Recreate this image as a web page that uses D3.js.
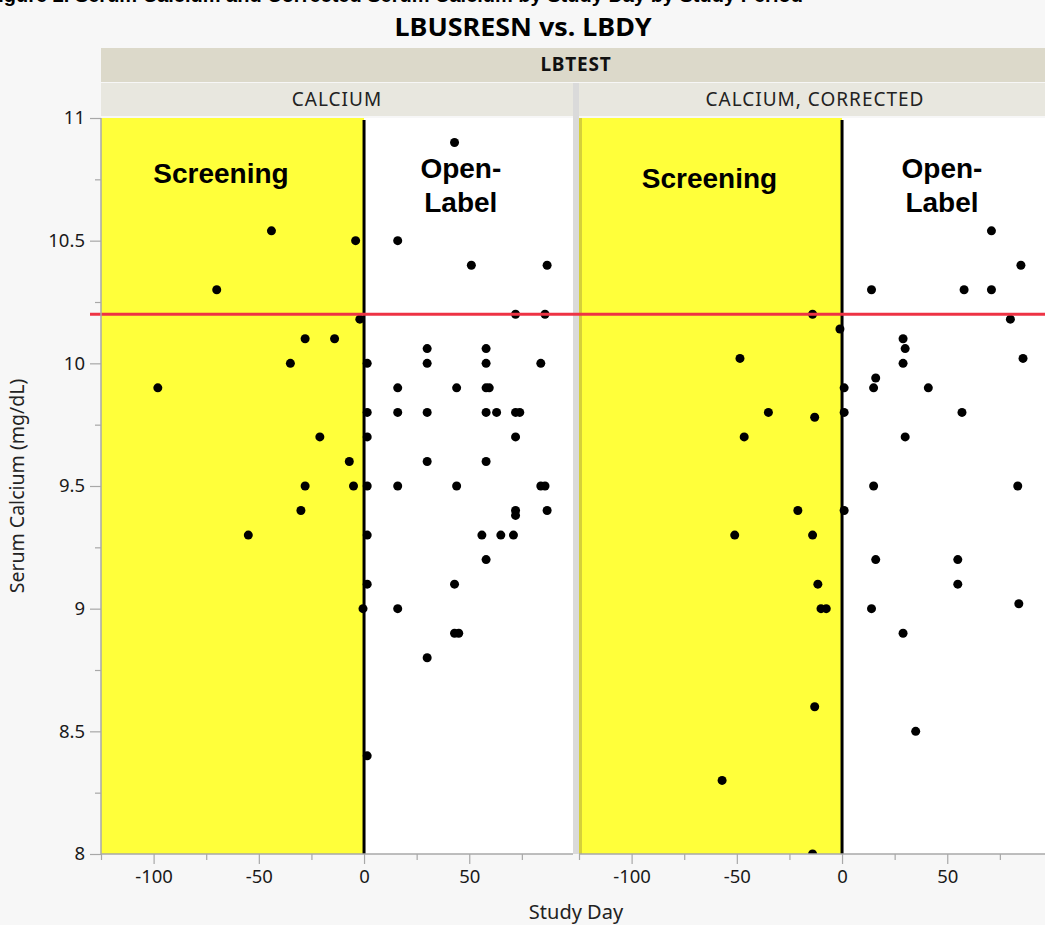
<!DOCTYPE html>
<html>
<head>
<meta charset="utf-8">
<script src="https://cdn.jsdelivr.net/npm/d3@7"></script>
<style>
  html, body { margin: 0; padding: 0; background: #f7f7f7; overflow: hidden; }
  svg { display: block; }
</style>
</head>
<body>
<svg id="chart" width="1045" height="925"></svg>
<script>
// ---- data -------------------------------------------------------------
const panelNames = ["CALCIUM", "CALCIUM, CORRECTED"];

// Serum calcium (mg/dL) by study day
const calciumDay = [
  -98, -70, -44, -55, -35, -28, -14, -21, -28, -30, -7, -5, -4, -2, -0.5,
  1.5, 1.5, 1.5, 1.5, 1.5, 1.5, 1.5,
  16, 16, 16, 16, 16,
  30, 30, 30, 30, 30,
  43, 44, 44, 43, 43, 45,
  51,
  58, 58, 58, 59.5, 58, 58, 56, 58,
  63, 65,
  72, 72, 72, 72, 71, 72, 74,
  84, 86, 87, 84, 86, 87
];
const calciumValue = [
  9.9, 10.3, 10.54, 9.3, 10.0, 10.1, 10.1, 9.7, 9.5, 9.4, 9.6, 9.5, 10.5, 10.18, 9.0,
  10.0, 9.8, 9.7, 9.5, 9.3, 9.1, 8.4,
  10.5, 9.9, 9.8, 9.5, 9.0,
  10.06, 10.0, 9.8, 9.6, 8.8,
  10.9, 9.9, 9.5, 9.1, 8.9, 8.9,
  10.4,
  10.06, 10.0, 9.9, 9.9, 9.8, 9.6, 9.3, 9.2,
  9.8, 9.3,
  10.2, 9.7, 9.4, 9.38, 9.3, 9.8, 9.8,
  10.0, 10.2, 10.4, 9.5, 9.5, 9.4
];

// Corrected serum calcium (mg/dL) by study day
const correctedDay = [
  -57, -51, -48.5, -46.5, -35, -21, -14, -13, -14, -11.5, -10, -7.5, -13, -14, -1,
  1, 1, 1,
  14, 16, 15, 15, 16, 14,
  29, 30, 29, 30, 29, 35, 41,
  58, 57, 55, 55,
  71, 71, 80, 85, 86, 83.5, 84
];
const correctedValue = [
  8.3, 9.3, 10.02, 9.7, 9.8, 9.4, 10.2, 9.78, 9.3, 9.1, 9.0, 9.0, 8.6, 8.0, 10.14,
  9.9, 9.8, 9.4,
  10.3, 9.94, 9.9, 9.5, 9.2, 9.0,
  10.1, 10.06, 10.0, 9.7, 8.9, 8.5, 9.9,
  10.3, 9.8, 9.2, 9.1,
  10.54, 10.3, 10.18, 10.4, 10.02, 9.5, 9.02
];

const xDomain = [-125, 99.3];
const yDomain = [8, 11];
const xMajorTicks = [-100, -50, 0, 50];
const xMinorTicks = [-125, -75, -25, 25, 75];
const yMajorTicks = [8, 8.5, 9, 9.5, 10, 10.5, 11];
const yMinorTicks = [8.25, 8.75, 9.25, 9.75, 10.25, 10.75];
const upperNormal = 10.2;          // reference line
const screeningEnd = 0;            // day 0 separates the study periods

// ---- layout -----------------------------------------------------------
const svg = d3.select("#chart");
const panelLeft = [101, 579];
const panelWidth = 472;
const plotTop = 118, plotBottom = 854;

const y = d3.scaleLinear().domain(yDomain).range([plotBottom, plotTop]);
const xScales = panelLeft.map(l => d3.scaleLinear().domain(xDomain).range([l, l + panelWidth]));

const fontUI = "'Noto Sans', 'Open Sans', sans-serif";
const fontBold = "'Liberation Sans', Arial, sans-serif";

// caption line running off the top edge
svg.append("text")
  .attr("x", -14).attr("y", 1.5)
  .attr("font-family", fontBold).attr("font-weight", "bold").attr("font-size", 20)
  .attr("fill", "#000")
  .text("Figure 2. Serum Calcium and Corrected Serum Calcium by Study Day by Study Period");

// title
svg.append("text")
  .attr("x", 523).attr("y", 36)
  .attr("text-anchor", "middle")
  .attr("font-family", fontUI).attr("font-weight", "bold").attr("font-size", 25)
  .attr("textLength", 257).attr("lengthAdjust", "spacingAndGlyphs")
  .attr("fill", "#000")
  .text("LBUSRESN vs. LBDY");

// group header strip
svg.append("rect")
  .attr("x", panelLeft[0]).attr("y", 48)
  .attr("width", panelLeft[1] + panelWidth - panelLeft[0]).attr("height", 34)
  .attr("fill", "#dcd9ca");
svg.append("text")
  .attr("x", (panelLeft[0] + panelLeft[1] + panelWidth) / 2).attr("y", 71)
  .attr("text-anchor", "middle")
  .attr("font-family", fontUI).attr("font-weight", "bold").attr("font-size", 19)
  .attr("letter-spacing", 0.8)
  .attr("fill", "#111")
  .text("LBTEST");

// divider between the two panels
svg.append("rect")
  .attr("x", panelLeft[0] + panelWidth).attr("y", 83)
  .attr("width", panelLeft[1] - panelLeft[0] - panelWidth).attr("height", plotBottom - 83)
  .attr("fill", "#dadada");

const defs = svg.append("defs");

panelNames.forEach((name, i) => {
  const x = xScales[i];
  const days = i === 0 ? calciumDay : correctedDay;
  const vals = i === 0 ? calciumValue : correctedValue;
  const left = panelLeft[i];

  // panel header
  svg.append("rect")
    .attr("x", left).attr("y", 83)
    .attr("width", panelWidth).attr("height", 33)
    .attr("fill", "#e8e7df");
  svg.append("text")
    .attr("x", left + panelWidth / 2).attr("y", 106)
    .attr("text-anchor", "middle")
    .attr("font-family", fontUI).attr("font-size", 19)
    .attr("letter-spacing", 1)
    .attr("fill", "#222")
    .text(name);

  defs.append("clipPath").attr("id", "clip" + i)
    .append("rect")
    .attr("x", left).attr("y", plotTop)
    .attr("width", panelWidth).attr("height", plotBottom - plotTop);

  const g = svg.append("g").attr("clip-path", `url(#clip${i})`);

  // plot background and screening period shading
  g.append("rect")
    .attr("x", left).attr("y", plotTop)
    .attr("width", panelWidth).attr("height", plotBottom - plotTop)
    .attr("fill", "#fff");
  g.append("rect")
    .attr("x", x(xDomain[0])).attr("y", plotTop)
    .attr("width", x(screeningEnd) - x(xDomain[0])).attr("height", plotBottom - plotTop)
    .attr("fill", "#ffff3a");
  if (i === 1) {
    g.append("rect")
      .attr("x", left).attr("y", plotTop)
      .attr("width", 3).attr("height", plotBottom - plotTop)
      .attr("fill", "#d6d03a");
  }

  // period labels
  const lab = g.append("g")
    .attr("font-family", fontBold).attr("font-weight", "bold").attr("font-size", 28)
    .attr("text-anchor", "middle").attr("fill", "#000");
  lab.append("text")
    .attr("x", x(i === 0 ? -68 : -63)).attr("y", y(i === 0 ? 10.735 : 10.715))
    .text("Screening");
  lab.append("text")
    .attr("x", x(i === 0 ? 46 : 47.5)).attr("y", y(10.755))
    .text("Open-");
  lab.append("text")
    .attr("x", x(i === 0 ? 46 : 47.5)).attr("y", y(10.615))
    .text("Label");

  // day 0 marker
  g.append("line")
    .attr("x1", x(screeningEnd)).attr("x2", x(screeningEnd))
    .attr("y1", plotTop + 2).attr("y2", plotBottom)
    .attr("stroke", "#000").attr("stroke-width", 3);

  // points
  g.selectAll("circle.pt")
    .data(d3.range(days.length))
    .join("circle")
    .attr("class", "pt")
    .attr("cx", k => x(days[k]))
    .attr("cy", k => y(vals[k]))
    .attr("r", 4.5)
    .attr("fill", "#000");

  // x axis
  const axisG = svg.append("g").attr("transform", `translate(0,${plotBottom})`);
  axisG.append("line")
    .attr("x1", left).attr("x2", left + panelWidth)
    .attr("stroke", "#a8a8a8").attr("stroke-width", 1.5);
  const xMajor = d3.axisBottom(x).tickValues(xMajorTicks).tickSize(10).tickPadding(6)
    .tickFormat(d3.format("d"));
  const xMinor = d3.axisBottom(x).tickValues(xMinorTicks).tickSize(6).tickFormat("");
  const gMaj = axisG.append("g").call(xMajor);
  const gMin = axisG.append("g").call(xMinor);
  [gMaj, gMin].forEach(a => {
    a.select(".domain").remove();
    a.selectAll("line").attr("stroke", "#a8a8a8").attr("stroke-width", 1.2);
  });
  gMaj.selectAll("text")
    .attr("font-family", fontUI).attr("font-size", 18.5).attr("fill", "#1a1a1a")
    .text(d => d < 0 ? "-" + Math.abs(d) : d);
});

// red reference line across both panels
svg.append("line")
  .attr("x1", 90).attr("x2", panelLeft[1] + panelWidth)
  .attr("y1", y(upperNormal)).attr("y2", y(upperNormal))
  .attr("stroke", "#ee3344").attr("stroke-width", 3);

// y axis
const yAxisG = svg.append("g").attr("transform", `translate(${panelLeft[0]},0)`);
yAxisG.append("line")
  .attr("y1", plotTop).attr("y2", plotBottom)
  .attr("stroke", "#a8a8a8").attr("stroke-width", 1.5);
const yMaj = yAxisG.append("g").call(
  d3.axisLeft(y).tickValues(yMajorTicks).tickSize(11).tickPadding(5).tickFormat(d => String(d)));
const yMin = yAxisG.append("g").call(
  d3.axisLeft(y).tickValues(yMinorTicks).tickSize(6).tickFormat(""));
[yMaj, yMin].forEach(a => {
  a.select(".domain").remove();
  a.selectAll("line").attr("stroke", "#a8a8a8").attr("stroke-width", 1.2);
});
yMaj.selectAll("text")
  .attr("font-family", fontUI).attr("font-size", 18.5).attr("fill", "#1a1a1a");

// axis titles
svg.append("text")
  .attr("x", (panelLeft[0] + panelLeft[1] + panelWidth) / 2).attr("y", 919)
  .attr("text-anchor", "middle")
  .attr("font-family", fontUI).attr("font-size", 20).attr("fill", "#222")
  .text("Study Day");
svg.append("text")
  .attr("transform", `translate(24,${(plotTop + plotBottom) / 2}) rotate(-90)`)
  .attr("text-anchor", "middle")
  .attr("font-family", fontUI).attr("font-size", 19.5).attr("fill", "#222")
  .text("Serum Calcium (mg/dL)");
</script>
</body>
</html>
